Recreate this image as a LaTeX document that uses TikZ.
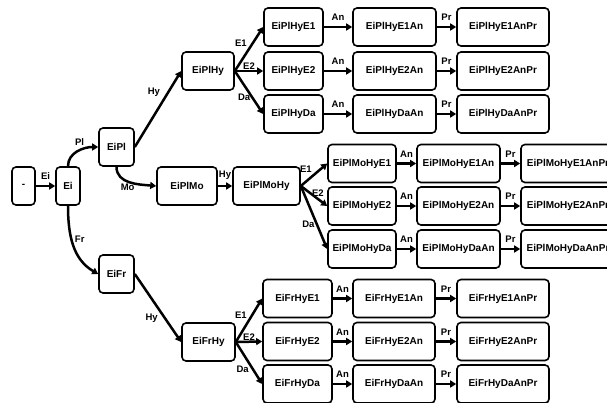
\documentclass[tikz,border=0pt]{standalone}
\usepackage{fontspec}
\setmainfont{Liberation Sans}
\usetikzlibrary{arrows.meta}

\begin{document}
\begin{tikzpicture}[x=1pt,y=1pt,
    state/.style={draw, line width=1.6pt, rounded corners=4pt, minimum height=38pt,
      inner sep=2pt, font=\fontsize{10}{12}\selectfont\bfseries},
    trans/.style={line width=2.5pt, -{Triangle[length=6pt,width=7pt]}},
    lbl/.style={inner sep=1pt, font=\fontsize{9.5}{10}\selectfont\bfseries}]
  \useasboundingbox (0,0) rectangle (607,-403);
  \clip (0,0) rectangle (607,-403);

  % Create the first states
  \node[state, minimum width=23pt] (root) at (23.5,-186) {-};
  \node[state, minimum width=24pt] (Ei) at (68,-186) {Ei};
  \node[state, minimum width=35pt] (EiPl) at (116.5,-147) {EiPl};
  \node[state, minimum width=60pt] (EiPlMo) at (187,-186) {EiPlMo};
  \node[state, minimum width=35pt] (EiFr) at (116.5,-274) {EiFr};

  % Add the Hy states
  \node[state, minimum width=52pt] (EiPlHy) at (208,-71) {EiPlHy};
  \node[state, minimum width=67pt] (EiPlMoHy) at (266.5,-186) {EiPlMoHy};
  \node[state, minimum width=53pt] (EiFrHy) at (208.5,-342) {EiFrHy};

  % Add the EiPlHy branch
  \node[state, minimum width=59pt] (EiPlHyE1) at (293.5,-27) {EiPlHyE1};
  \node[state, minimum width=59pt] (EiPlHyE2) at (293.5,-71) {EiPlHyE2};
  \node[state, minimum width=59pt] (EiPlHyDa) at (293.5,-114) {EiPlHyDa};
  \node[state, minimum width=83pt] (EiPlHyE1An) at (394.5,-27) {EiPlHyE1An};
  \node[state, minimum width=83pt] (EiPlHyE2An) at (394.5,-71) {EiPlHyE2An};
  \node[state, minimum width=83pt] (EiPlHyDaAn) at (394.5,-114) {EiPlHyDaAn};
  \node[state, minimum width=92pt] (EiPlHyE1AnPr) at (503,-27) {EiPlHyE1AnPr};
  \node[state, minimum width=92pt] (EiPlHyE2AnPr) at (503,-71) {EiPlHyE2AnPr};
  \node[state, minimum width=92pt] (EiPlHyDaAnPr) at (503,-114) {EiPlHyDaAnPr};

  % Add the EiPlMoHy branch
  \node[state, minimum width=68pt] (EiPlMoHyE1) at (362,-163.5) {EiPlMoHyE1};
  \node[state, minimum width=68pt] (EiPlMoHyE2) at (362,-206) {EiPlMoHyE2};
  \node[state, minimum width=68pt] (EiPlMoHyDa) at (362,-249) {EiPlMoHyDa};
  \node[state, minimum width=83pt] (EiPlMoHyE1An) at (458.5,-163.5) {EiPlMoHyE1An};
  \node[state, minimum width=83pt] (EiPlMoHyE2An) at (458.5,-206) {EiPlMoHyE2An};
  \node[state, minimum width=83pt] (EiPlMoHyDaAn) at (458.5,-249) {EiPlMoHyDaAn};
  \node[state, minimum width=94pt] (EiPlMoHyE1AnPr) at (568,-163.5) {EiPlMoHyE1AnPr};
  \node[state, minimum width=94pt] (EiPlMoHyE2AnPr) at (568,-206) {EiPlMoHyE2AnPr};
  \node[state, minimum width=94pt] (EiPlMoHyDaAnPr) at (568,-249) {EiPlMoHyDaAnPr};

  % Add the EiFrHy branch
  \node[state, minimum width=69pt] (EiFrHyE1) at (297.5,-298.5) {EiFrHyE1};
  \node[state, minimum width=69pt] (EiFrHyE2) at (297.5,-341.5) {EiFrHyE2};
  \node[state, minimum width=69pt] (EiFrHyDa) at (297.5,-384) {EiFrHyDa};
  \node[state, minimum width=82pt] (EiFrHyE1An) at (394,-298.5) {EiFrHyE1An};
  \node[state, minimum width=82pt] (EiFrHyE2An) at (394,-341.5) {EiFrHyE2An};
  \node[state, minimum width=82pt] (EiFrHyDaAn) at (394,-384) {EiFrHyDaAn};
  \node[state, minimum width=92pt] (EiFrHyE1AnPr) at (503,-298.5) {EiFrHyE1AnPr};
  \node[state, minimum width=92pt] (EiFrHyE2AnPr) at (503,-341.5) {EiFrHyE2AnPr};
  \node[state, minimum width=92pt] (EiFrHyDaAnPr) at (503,-384) {EiFrHyDaAnPr};

  % Connect the first states
  \draw[trans] (root) -- node[lbl, above=4pt] {Ei} (Ei);
  \draw[trans] (Ei.north) to[out=90,in=180] node[lbl, pos=0.55, above=3pt] {Pl} (EiPl.west);
  \draw[trans] (EiPl.south) to[out=-90,in=175] node[lbl, pos=0.45, below] {Mo} (EiPlMo.west);
  \draw[trans] (Ei.south) to[out=-90,in=150] node[lbl, pos=0.42, right=1pt] {Fr} (EiFr.west);
  \draw[trans] (EiPl.east) -- node[lbl, pos=0.72, left=6pt] {Hy} (EiPlHy.west);
  \draw[trans] (EiPlMo) -- node[lbl, above=4pt] {Hy} (EiPlMoHy);
  \draw[trans] (EiFr.east) -- node[lbl, pos=0.65, left=5pt] {Hy} (EiFrHy.west);

  % Connect the EiPlHy branch
  \draw[trans] (EiPlHy.east) -- node[lbl, pos=0.5, above left] {E1} (EiPlHyE1.west);
  \draw[trans] (EiPlHy.east) -- node[lbl, pos=0.5, above, inner sep=0pt] {E2} (EiPlHyE2.west);
  \draw[trans] (EiPlHy.east) -- node[lbl, pos=0.62, left] {Da} (EiPlHyDa.west);
  \draw[trans] (EiPlHyE1) -- node[lbl, above=4pt] {An} (EiPlHyE1An);
  \draw[trans] (EiPlHyE2) -- node[lbl, above=4pt] {An} (EiPlHyE2An);
  \draw[trans] (EiPlHyDa) -- node[lbl, above=4pt] {An} (EiPlHyDaAn);
  \draw[trans] (EiPlHyE1An) -- node[lbl, above=4pt] {Pr} (EiPlHyE1AnPr);
  \draw[trans] (EiPlHyE2An) -- node[lbl, above=4pt] {Pr} (EiPlHyE2AnPr);
  \draw[trans] (EiPlHyDaAn) -- node[lbl, above=4pt] {Pr} (EiPlHyDaAnPr);

  % Connect the EiPlMoHy branch
  \draw[trans] (EiPlMoHy.east) -- node[lbl, pos=0.5, above left] {E1} (EiPlMoHyE1.west);
  \draw[trans] (EiPlMoHy.east) -- node[lbl, pos=0.65, above] {E2} (EiPlMoHyE2.west);
  \draw[trans] (EiPlMoHy.east) -- node[lbl, pos=0.6, left] {Da} (EiPlMoHyDa.west);
  \draw[trans] (EiPlMoHyE1) -- node[lbl, above=4pt] {An} (EiPlMoHyE1An);
  \draw[trans] (EiPlMoHyE2) -- node[lbl, above=4pt] {An} (EiPlMoHyE2An);
  \draw[trans] (EiPlMoHyDa) -- node[lbl, above=4pt] {An} (EiPlMoHyDaAn);
  \draw[trans] (EiPlMoHyE1An) -- node[lbl, above=4pt] {Pr} (EiPlMoHyE1AnPr);
  \draw[trans] (EiPlMoHyE2An) -- node[lbl, above=4pt] {Pr} (EiPlMoHyE2AnPr);
  \draw[trans] (EiPlMoHyDaAn) -- node[lbl, above=4pt] {Pr} (EiPlMoHyDaAnPr);

  % Connect the EiFrHy branch
  \draw[trans] (EiFrHy.east) -- node[lbl, pos=0.5, above left] {E1} (EiFrHyE1.west);
  \draw[trans] (EiFrHy.east) -- node[lbl, pos=0.5, above, inner sep=0pt] {E2} (EiFrHyE2.west);
  \draw[trans] (EiFrHy.east) -- node[lbl, pos=0.65, left=2pt] {Da} (EiFrHyDa.west);
  \draw[trans] (EiFrHyE1) -- node[lbl, above=4pt] {An} (EiFrHyE1An);
  \draw[trans] (EiFrHyE2) -- node[lbl, above=4pt] {An} (EiFrHyE2An);
  \draw[trans] (EiFrHyDa) -- node[lbl, above=4pt] {An} (EiFrHyDaAn);
  \draw[trans] (EiFrHyE1An) -- node[lbl, above=4pt] {Pr} (EiFrHyE1AnPr);
  \draw[trans] (EiFrHyE2An) -- node[lbl, above=4pt] {Pr} (EiFrHyE2AnPr);
  \draw[trans] (EiFrHyDaAn) -- node[lbl, above=4pt] {Pr} (EiFrHyDaAnPr);
\end{tikzpicture}
\end{document}
